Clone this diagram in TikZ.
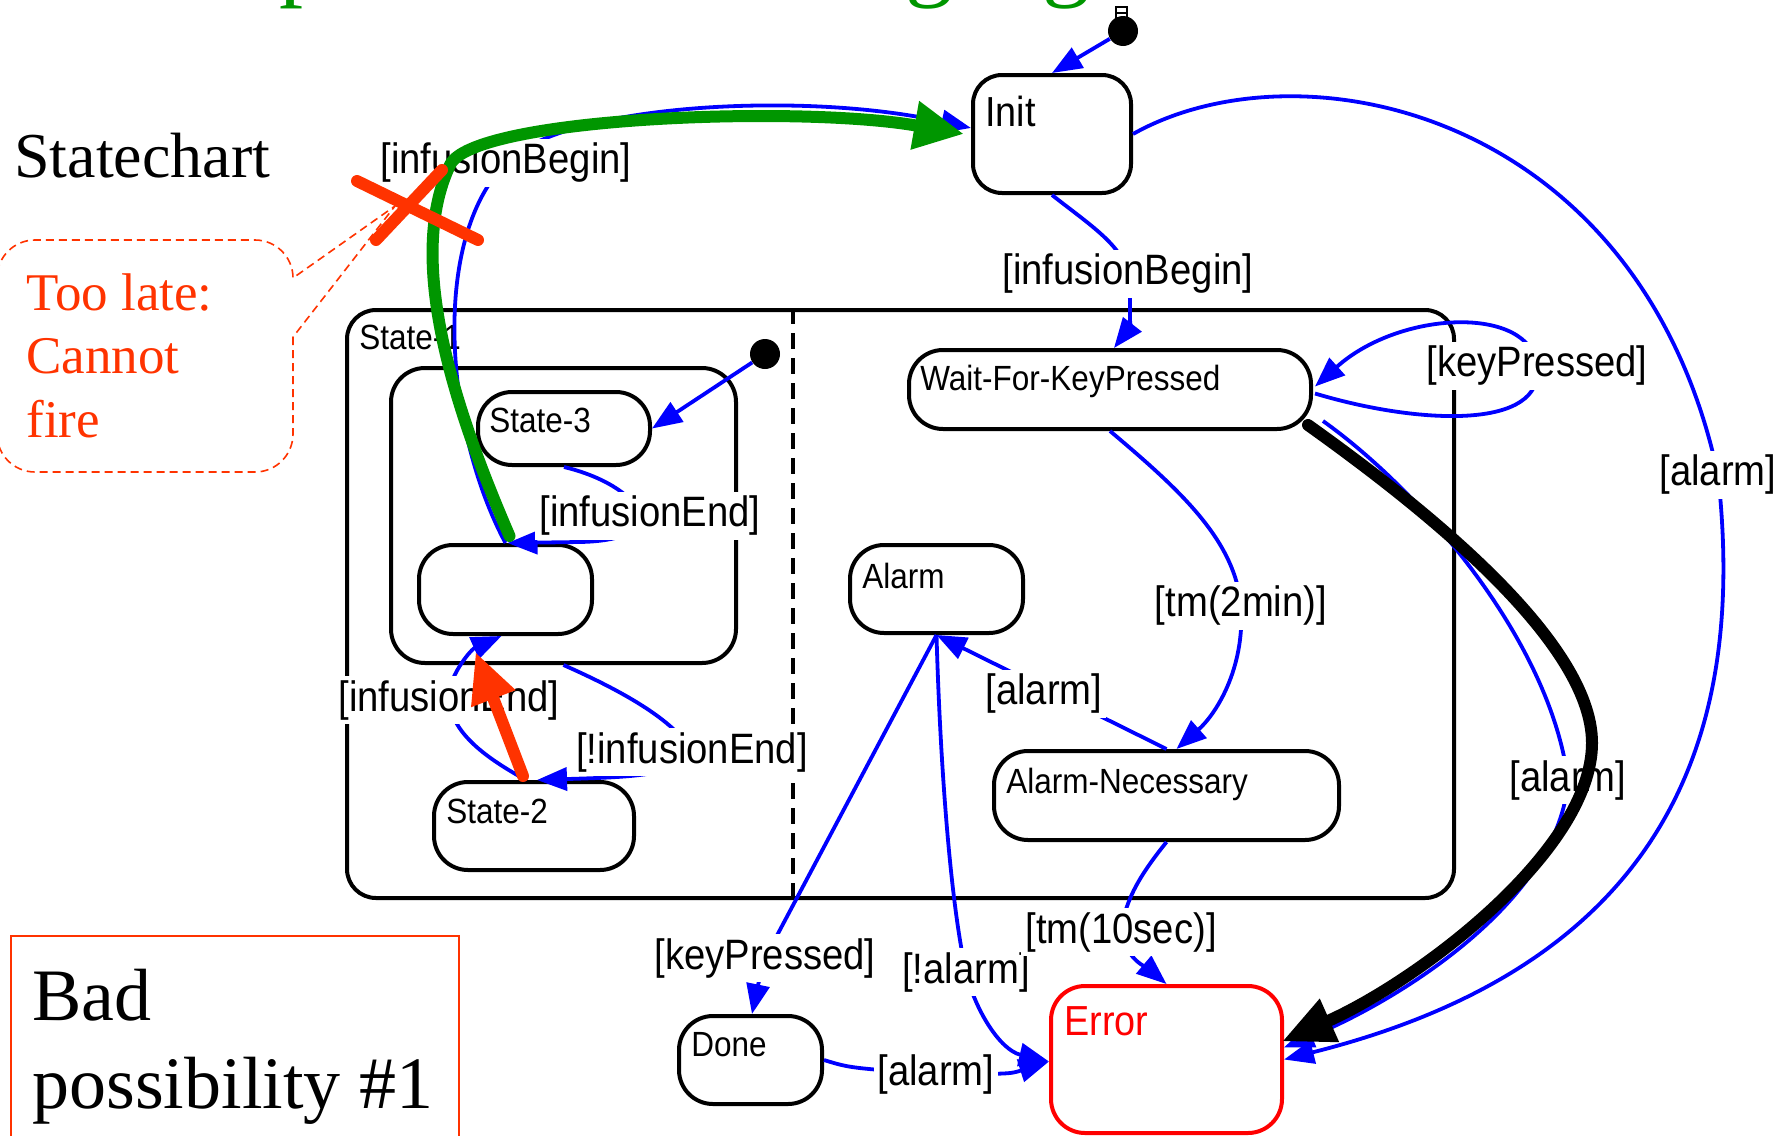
\documentclass[tikz,border=0pt]{standalone}
\usepackage{fontspec}
\setmainfont{Liberation Serif}
\newfontfamily\lsans[FakeStretch=0.9]{Liberation Sans}
\usetikzlibrary{arrows.meta,fit}
\definecolor{fire}{RGB}{255,51,0}
\definecolor{grn}{RGB}{0,150,0}
\begin{document}
\begin{tikzpicture}[x=0.5pt,y=-0.5pt,
  box/.style={draw, line width=2pt, inner sep=0pt, rounded corners=17pt},
  conn/.style={draw=blue, line width=1.9pt, -{Triangle[length=15pt,width=11.5pt]}},
  lbl/.style={fill=white, inner sep=2pt, font=\lsans\fontsize{21.25}{24}\selectfont},
  sname/.style={anchor=base west, inner sep=0pt, font=\lsans\fontsize{17.5}{20}\selectfont},
  bname/.style={anchor=base west, inner sep=0pt, font=\lsans\fontsize{21}{24}\selectfont},
  dotnode/.style={circle, fill=black, inner sep=0pt, minimum size=15pt},
  serifline/.style={anchor=base west, inner sep=0pt},
  hiarrow/.style={line width=6pt, line cap=round},
]
\useasboundingbox (0,0) rectangle (1792,1135);
\clip (0,0) rectangle (1792,1135);

% heading glyphs, cut by the top edge
\begin{scope}[every node/.style={anchor=base west, inner sep=0pt, text=grn, font=\fontsize{48}{50}\selectfont}]
  \node (hp) at (279,-11) {p};
  \node (hg1) at (905,-11) {g};
  \node (hg2) at (1042,-11) {g};
\end{scope}

% states
\node[box, rounded corners=14.5pt, fit={(347,310) (1454,898)}] (s1) {};
\node[box, fit={(391,368) (736,663)}] (inner) {};
\node[box, rounded corners=14.5pt, fit={(973,75) (1131,193)}] (init) {};
\node[box, fit={(478,392) (650,465)}] (s3) {};
\node[box, fit={(419,545) (592,634)}] (s4) {};
\node[box, fit={(434,782) (634,870)}] (s2) {};
\node[box, fit={(909,350) (1311,429)}] (wfk) {};
\node[box, fit={(850,545) (1023,633)}] (alarm) {};
\node[box, fit={(994,751) (1339,840)}] (alnec) {};
\node[box, fit={(679,1016) (822,1104)}] (done) {};
\node[box, draw=red, fit={(1051,986) (1282,1133)}] (error) {};

% state names
\node[bname] (tInit) at ([shift={(14,53)}]init.north west) {Init};
\node[sname] (tS1) at ([shift={(14,41)}]s1.north west) {State-1};
\node[sname] (tS3) at ([shift={(13,42)}]s3.north west) {State-3};
\node[sname] (tS2) at ([shift={(14,43)}]s2.north west) {State-2};
\node[sname] (tWfk) at ([shift={(13,42)}]wfk.north west) {Wait-For-KeyPressed};
\node[sname] (tAlarm) at ([shift={(14,45)}]alarm.north west) {Alarm};
\node[sname] (tAlnec) at ([shift={(14,44)}]alnec.north west) {Alarm-Necessary};
\node[sname] (tDone) at ([shift={(14,42)}]done.north west) {Done};
\node[bname, text=red] (tError) at ([shift={(15,51)}]error.north west) {Error};

% orthogonal regions of State-1
\draw[line width=1.6pt, dash pattern=on 8pt off 4.5pt] (s1.north -| 793,0) -- (s1.south -| 793,0);

% guard positions
\coordinate (lib1) at (506,163);
\coordinate (lib2) at (1128,274);
\coordinate (lkp1) at (1537,366);
\coordinate (ltm2) at (1241,606);
\coordinate (lal1) at (1044,694);
\coordinate (lkp2) at (765,958);
\coordinate (lna) at (966,972);
\coordinate (lal2) at (936,1074);
\coordinate (lt10) at (1121,932);
\coordinate (lal3) at (1718,475);
\coordinate (lal4) at (1568,780);
\coordinate (lie1) at (650,516);
\coordinate (lie2) at (449,700);
\coordinate (lnie) at (692,752);
\coordinate (bIE) at (580,542);
\coordinate (gA) at (450,165);
\coordinate (kB) at (1592,743);

% initial pseudo-states
\node[dotnode] (idot) at (1123,31) {};
\node[dotnode] (idot2) at (765,354) {};
\draw[line width=0.8pt] (1116,7) rectangle (1127,19);
\draw[line width=0.8pt] (1116,13) -- (1127,13);

% transitions
\draw[conn] (idot) -- (init.north);
\draw[conn] (s4.north) .. controls (445,430) and (430,240) .. (lib1)
  .. controls (560,105) and (800,90) .. ([shift={(0,-6)}]init.west);
\draw[conn] (init.south) .. controls (1090,225) and (1122,245) .. (lib2)
  .. controls (1132,300) and (1128,330) .. ([shift={(4,0)}]wfk.north);
\draw[conn] ([shift={(2,4)}]wfk.east) .. controls (1420,425) and (1545,430) .. (lkp1)
  .. controls (1530,305) and (1400,310) .. ([shift={(2,-3)}]wfk.east);
\draw[conn] (wfk.south) .. controls (1180,490) and (1235,540) .. (ltm2)
  .. controls (1245,670) and (1215,715) .. ([shift={(10,0)}]alnec.north);
\draw[conn] (alnec.north) -- (alarm.south);
\draw[conn] (alarm.south) -- (lkp2) .. controls (758,985) .. ([shift={(1.5,0)}]done.north);
\draw[conn] (alarm.south) .. controls (940,760) and (950,900) .. (lna)
  .. controls (975,1010) and (1000,1050) .. ([shift={(0,2)}]error.west);
\draw[conn] (done.east) .. controls (850,1068) .. (lal2)
  .. controls (1010,1074) .. ([shift={(0,2)}]error.west);
\draw[conn] (alnec.south) .. controls (1140,875) and (1125,900) .. (lt10)
  .. controls (1126,960) and (1150,970) .. (error.north);
\draw[conn] (init.east) .. controls (1300,40) and (1640,110) .. (lal3)
  .. controls (1745,720) and (1680,960) .. (error.east);
\draw[conn] ([shift={(10,-10)}]wfk.south east) .. controls (1420,490) and (1550,640) .. (lal4)
  .. controls (1560,900) and (1400,1000) .. ([shift={(0,-12)}]error.east);
\draw[conn] (s3.south) .. controls (640,485) and (680,540) .. (bIE) -- ([shift={(2,0)}]s4.north);
\draw[conn] (idot2) -- (s3.east);
\draw[conn] ([shift={(-8,0)}]s2.north) .. controls (490,760) and (452,735) .. (lie2)
  .. controls (446,680) and (470,650) .. ([shift={(-4,0)}]s4.south);
\draw[conn] (inner.south) .. controls (620,690) and (675,720) .. (lnie)
  .. controls (680,776) and (630,777) .. ([shift={(3,0)}]s2.north);

% guards
\node[lbl] (gIB1) at (lib1) {[infusionBegin]};
\node[lbl] (gIB2) at (lib2) {[infusionBegin]};
\node[lbl] (gKP1) at (lkp1) {[keyPressed]};
\node[lbl] (gTM2) at (ltm2) {[tm(2min)]};
\node[lbl] (gAL1) at (lal1) {[alarm]};
\node[lbl] (gKP2) at (lkp2) {[keyPressed]};
\node[lbl] (gNA) at (lna) {[!alarm]};
\node[lbl] (gAL2) at (lal2) {[alarm]};
\node[lbl] (gT10) at (lt10) {[tm(10sec)]};
\node[lbl] (gAL3) at (lal3) {[alarm]};
\node[lbl] (gAL4) at (lal4) {[alarm]};
\node[lbl] (gIE1) at (lie1) {[infusionEnd]};
\node[lbl] (gIE2) at (lie2) {[infusionEnd]};
\node[lbl] (gNIE) at (lnie) {[!infusionEnd]};

% slide texts
\node[serifline, font=\fontsize{32}{38}\selectfont] (tChart) at (14,177) {Statechart};

\draw[fire, line width=0.8pt, dash pattern=on 4pt off 2.5pt]
  (293,337) -- (293,434) .. controls (293,455) and (276,472) .. (255,472)
  -- (35,472) .. controls (14,472) and (-3,455) .. (-3,434)
  -- (-3,278) .. controls (-3,257) and (14,240) .. (35,240)
  -- (255,240) .. controls (276,240) and (293,257) .. (293,278)
  -- (395,206) -- cycle;
\begin{scope}[every node/.style={serifline, text=fire, font=\fontsize{26.5}{32}\selectfont}]
  \node (late1) at (26,310) {Too late:};
  \node (late2) at (26,373) {Cannot};
  \node (late3) at (26,437) {fire};
\end{scope}

\draw[fire, line width=1pt] (11,1140) -- (11,936) -- (459,936) -- (459,1140);
\begin{scope}[every node/.style={serifline, font=\fontsize{37}{44}\selectfont}]
  \node (bad1) at (32,1020) {Bad};
  \node (bad2) at (32,1108) {possibility \#1};
\end{scope}

% highlighted transitions
\draw[grn, hiarrow, -{Triangle[length=25pt,width=23pt]}]
  ([shift={(4,-7)}]s4.north) .. controls (455,410) and (405,260) .. (gA)
  .. controls (472,117) and (800,105) .. ([shift={(-7,0)}]init.west);
\draw[fire, hiarrow, -{Triangle[length=25pt,width=22pt]}]
  ([shift={(-11,-4)}]s2.north) -- ([shift={(-30,16)}]s4.south);
\draw[black, hiarrow, -{Triangle[length=26pt,width=22pt]}]
  ([shift={(-5,-6)}]wfk.south east) .. controls (1420,505) and (1592,640) .. (kB)
  .. controls (1592,850) and (1420,980) .. ([shift={(-2,-18)}]error.east);

% crossed-out transition
\draw[fire, hiarrow] (357,181) -- (478,240);
\draw[fire, hiarrow] (376,240) -- (442,170);
\end{tikzpicture}
\end{document}
